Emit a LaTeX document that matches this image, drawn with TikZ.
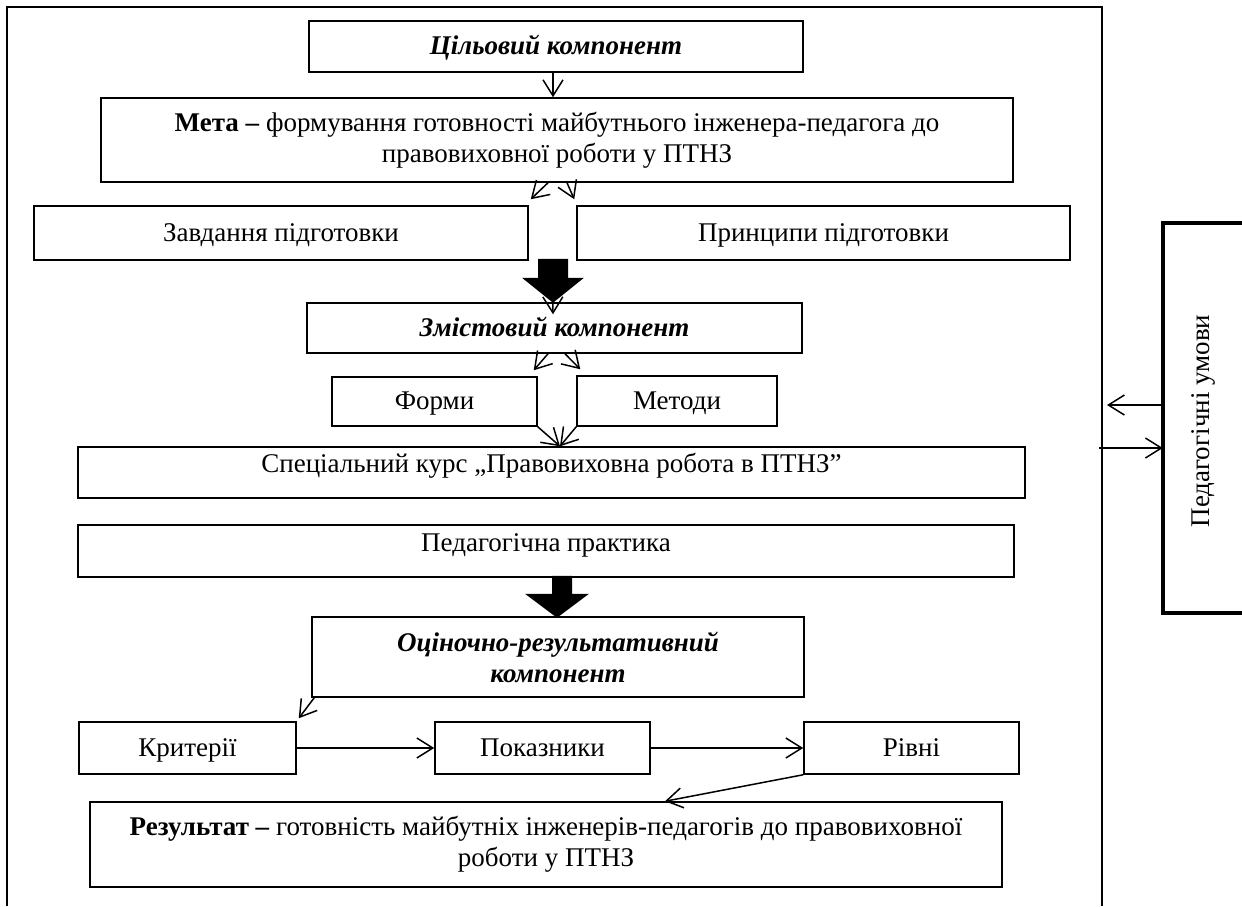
\documentclass[tikz,border=0pt]{standalone}
\usepackage{fontspec}
\setmainfont{Liberation Serif}
\usetikzlibrary{arrows.meta,calc}
\begin{document}
\begin{tikzpicture}[x=1pt,y=-1pt,
  box/.style={draw, line width=1.5pt, rectangle, inner sep=0pt, align=center,
    font=\fontsize{27}{31}\selectfont},
  oneline/.style={text height=21pt, text depth=5pt},
  highline/.style={text height=12pt, text depth=12pt},
  arr/.style={line width=1.5pt, -{Straight Barb[length=16pt,width=20pt]}},
  frameline/.style={line width=1.6pt},
  condline/.style={line width=4.5pt},
  blockarrow/.style={fill=black},
]
\useasboundingbox (0,0) rectangle (1242,906);

% outer frame (open at the bottom)
\coordinate (fbl) at (7,906);
\coordinate (ftl) at (7,7);
\coordinate (ftr) at (1102,7);
\coordinate (fbr) at (1102,906);
\draw[frameline] (fbl) -- (ftl) -- (ftr) -- (fbr);

% boxes
\node[box, oneline, minimum width=494pt, minimum height=51pt] (goal) at (556,46.5)
  {\textbf{\textit{Цільовий компонент}}};
\node[box, minimum width=912pt, minimum height=84pt] (meta) at (557,140)
  {\textbf{Мета –} формування готовності майбутнього інженера-педагога до\\правовиховної роботи у ПТНЗ};
\node[box, oneline, minimum width=494pt, minimum height=54pt] (tasks) at (281,233)
  {Завдання підготовки};
\node[box, oneline, minimum width=493pt, minimum height=54pt] (princ) at (823.5,233)
  {Принципи підготовки};
\node[box, oneline, minimum width=495pt, minimum height=50pt] (content) at (554.5,328)
  {\textbf{\textit{Змістовий компонент}}};
\node[box, oneline, minimum width=205pt, minimum height=49pt] (forms) at (434.5,401.5)
  {Форми};
\node[box, oneline, minimum width=200pt, minimum height=50pt] (methods) at (677,401)
  {Методи};
\node[box, highline, minimum width=947pt, minimum height=51pt] (course) at (551.5,472.5)
  {Спеціальний курс „Правовиховна робота в ПТНЗ”};
\node[box, highline, minimum width=936pt, minimum height=52pt] (practice) at (546,551)
  {Педагогічна практика};
\node[box, minimum width=492pt, minimum height=80pt] (eval) at (558,657)
  {\textbf{\textit{Оціночно-результативний}}\\\textbf{\textit{компонент}}};
\node[box, oneline, minimum width=217pt, minimum height=52pt] (crit) at (187.5,748)
  {Критерії};
\node[box, oneline, minimum width=215pt, minimum height=52pt] (indic) at (542.5,748)
  {Показники};
\node[box, oneline, minimum width=215pt, minimum height=52pt] (levels) at (911.5,748)
  {Рівні};
\node[box, minimum width=912pt, minimum height=85pt] (result) at (546,844.5)
  {\textbf{Результат –} готовність майбутніх інженерів-педагогів до правовиховної\\роботи у ПТНЗ};

% pedagogical conditions box (right side cut by the page edge)
\node[minimum width=82pt, minimum height=390pt, inner sep=0pt] (cond) at (1204,418) {};
\draw[condline] (cond.north east) -- (cond.north west) -- (cond.south west) -- (cond.south east);
\node[rotate=90, inner sep=0pt, font=\fontsize{27}{31}\selectfont] (condtext) at (1203,421) {Педагогічні умови};

% connectors
\draw[arr] ($(goal.south)+(-3,0)$) -- ($(meta.north)+(-4,0)$);
\draw[arr] ($(meta.south)+(-9,0)$) -- ($(tasks.north east)+(2,-6)$);
\draw[arr] ($(meta.south)+(10,0)$) -- ($(princ.north west)+(-2,-6)$);
\draw[arr] ($(tasks.south east)!0.5!(princ.south west)$) -- ($(content.north)+(-1.5,12)$);

% black block arrow 1
\coordinate (b1) at ($(tasks.south east)!0.5!(princ.south west)+(0.5,-2)$);
\fill[blockarrow] (b1) ++(-15,0) -- ++(30,0) -- ++(0,19) -- ++(16,0) -- ++(-31,25) -- ++(-31,-25) -- ++(16,0) -- cycle;

\draw[arr] ($(content.south)+(-6.5,0)$) -- ($(forms.north east)+(-4,-6)$);
\draw[arr] ($(content.south)+(10.5,0)$) -- ($(methods.north west)+(4,-6)$);
\draw[arr] (forms.south east) -- ($(course.north)+(8.5,0)$);
\draw[arr] (methods.south west) -- ($(course.north)+(8.5,0)$);

% black block arrow 2
\coordinate (b2) at ($(practice.south)+(16,-2)$);
\fill[blockarrow] (b2) ++(-10,0) -- ++(20,0) -- ++(0,18) -- ++(17,0) -- ++(-32,24) -- ++(-32,-24) -- ++(27,0) -- cycle;

\draw[arr] ($(eval.south west)+(3,0)$) -- ($(crit.north east)+(2,-3)$);
\draw[arr] (crit.east) -- (indic.west);
\draw[arr] (indic.east) -- (levels.west);
\draw[arr] (levels.south west) -- ($(result.north)+(119,0)$);

% arrows between frame and conditions box
\coordinate (fr1) at (1107,405);
\coordinate (fr2) at (1099,448);
\draw[arr] (cond.west |- fr1) -- (fr1);
\draw[arr] (fr2) -- (cond.west |- fr2);
\end{tikzpicture}
\end{document}
